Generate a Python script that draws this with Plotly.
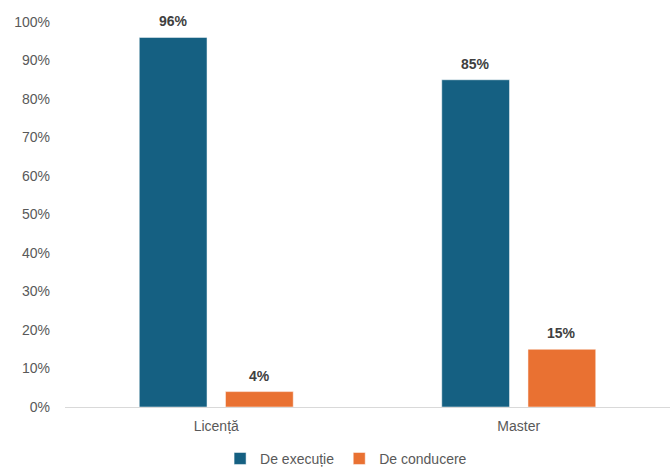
import plotly.graph_objects as go

categories = ["Licență", "Master"]
series_names = ["De execuție", "De conducere"]
de_executie = [96, 85]
de_conducere = [4, 15]
tick_vals = [0, 10, 20, 30, 40, 50, 60, 70, 80, 90, 100]
tick_text = [f"{v}%" for v in tick_vals]

colors = ["#156082", "#E97132"]
font_family = "Liberation Sans, Arial, sans-serif"

fig = go.Figure()
for name, vals, col in zip(series_names, [de_executie, de_conducere], colors):
    fig.add_trace(go.Bar(
        x=categories, y=vals, name=name,
        marker=dict(color=col, line=dict(color="#FFFFFF", width=0.5)),
    ))

# data labels, placed above each bar
for shift, vals in zip([-43, 43], [de_executie, de_conducere]):
    for cat, v in zip(categories, vals):
        fig.add_annotation(x=cat, y=v, text=f"<b>{v}%</b>", showarrow=False,
                           xshift=shift, yshift=16, yanchor="middle",
                           font=dict(family=font_family, size=14, color="#404040"))

fig.update_layout(
    width=672, height=476,
    margin=dict(l=65, r=2, t=22, b=69, autoexpand=False),
    paper_bgcolor="white", plot_bgcolor="white",
    barmode="group", bargap=0.43, bargroupgap=0.214,
    font=dict(family=font_family, size=14, color="#595959"),
    showlegend=True,
    legend=dict(orientation="h", x=0.515, xref="container", xanchor="center",
                y=0.036, yref="container", yanchor="middle",
                font=dict(size=14, color="#595959"), itemwidth=30, traceorder="normal"),
    xaxis=dict(showline=True, linecolor="#D9D9D9", linewidth=1, ticks="", automargin=False,
               ticklabelstandoff=6, tickfont=dict(size=14, color="#595959")),
    yaxis=dict(range=[0, 100], tickvals=tick_vals, ticktext=tick_text, showgrid=False,
               zeroline=False, showline=False, ticks="", ticklabelstandoff=14, automargin=False,
               tickfont=dict(size=14, color="#595959")),
)

fig.write_html("out.html", config={"displayModeBar": False},
               post_script="document.body.style.margin='0';document.body.style.overflow='hidden';")
